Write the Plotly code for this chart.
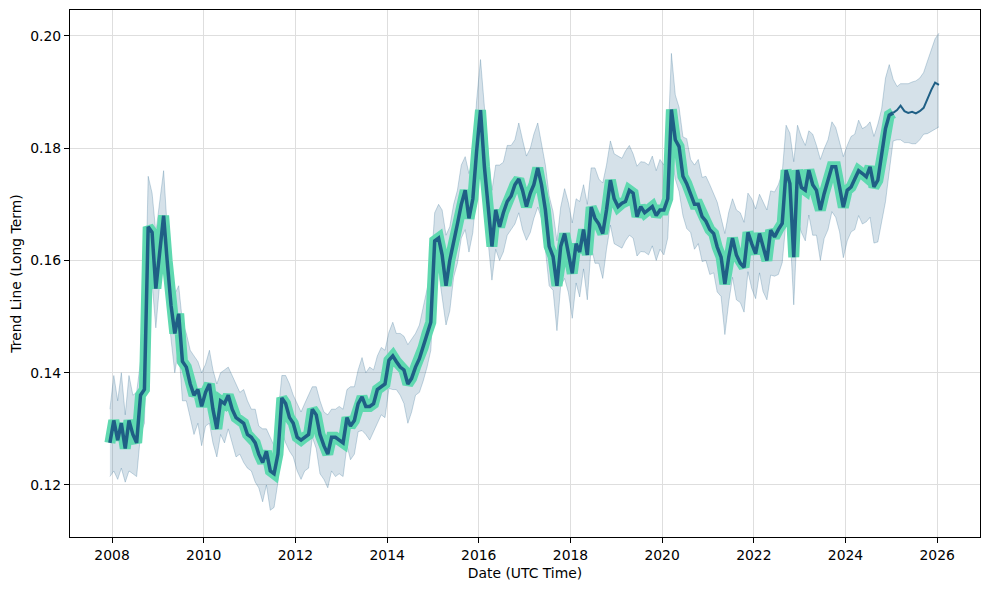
import pandas as pd
import plotly.graph_objects as go

# monthly trend (history), Dec 2007 .. Jan 2025
trend = [
    0.1275,
    0.1315, 0.128, 0.131, 0.1265, 0.1315, 0.129, 0.1275, 0.136, 0.137, 0.166, 0.165, 0.155,        # 2008
    0.162, 0.168, 0.160, 0.152, 0.147, 0.1505, 0.142, 0.141, 0.138, 0.136, 0.137, 0.134,           # 2009
    0.1365, 0.138, 0.1335, 0.130, 0.135, 0.1345, 0.136, 0.1335, 0.132, 0.1315, 0.131, 0.129,       # 2010
    0.1285, 0.1275, 0.1255, 0.124, 0.126, 0.1225, 0.122, 0.1255, 0.1355, 0.1345, 0.132, 0.131,    # 2011
    0.1285, 0.128, 0.1285, 0.129, 0.1335, 0.1325, 0.129, 0.127, 0.1255, 0.1285, 0.1285, 0.128,    # 2012
    0.1275, 0.132, 0.1305, 0.1315, 0.1345, 0.1357, 0.134, 0.134, 0.1345, 0.137, 0.1375, 0.138,    # 2013
    0.1422, 0.143, 0.142, 0.141, 0.1405, 0.138, 0.139, 0.141, 0.1425, 0.1445, 0.147, 0.149,       # 2014
    0.1635, 0.164, 0.161, 0.1555, 0.160, 0.163, 0.1665, 0.170, 0.1725, 0.1675, 0.171, 0.1795,     # 2015
    0.1868, 0.1767, 0.1705, 0.1625, 0.169, 0.166, 0.1685, 0.1705, 0.1715, 0.1735, 0.1745, 0.1725, # 2016
    0.1696, 0.172, 0.1735, 0.1765, 0.1735, 0.169, 0.1625, 0.1607, 0.1555, 0.1625, 0.1648, 0.1613, # 2017
    0.1577, 0.163, 0.1615, 0.1655, 0.161, 0.1695, 0.1675, 0.1665, 0.1648, 0.169, 0.1743, 0.171,   # 2018
    0.1696, 0.1702, 0.1705, 0.1725, 0.172, 0.1678, 0.1696, 0.1685, 0.169, 0.1696, 0.168, 0.169,   # 2019
    0.169, 0.171, 0.1869, 0.1815, 0.1803, 0.175, 0.1737, 0.172, 0.170, 0.170, 0.1678, 0.167,      # 2020
    0.1655, 0.1648, 0.1624, 0.1606, 0.1558, 0.1606, 0.164, 0.161, 0.1595, 0.1588, 0.165, 0.163,   # 2021
    0.1612, 0.1648, 0.1625, 0.160, 0.1654, 0.1642, 0.1655, 0.1666, 0.1761, 0.1737, 0.1606, 0.1761, # 2022
    0.173, 0.1725, 0.1761, 0.1735, 0.1725, 0.169, 0.1719, 0.1745, 0.1767, 0.1767, 0.1731, 0.1695, # 2023
    0.1725, 0.1731, 0.1745, 0.176, 0.1755, 0.1749, 0.1767, 0.1731, 0.1743, 0.179, 0.1835, 0.1859, # 2024
    0.1863,
]

# distance from trend to upper / lower edge of the uncertainty band
band_up = [
    0.006,
    0.008, 0.007, 0.009, 0.006, 0.008, 0.007, 0.009, 0.006, 0.008, 0.009, 0.007, 0.010,
    0.009, 0.008, 0.006, 0.008, 0.007, 0.005, 0.007, 0.006, 0.006, 0.007, 0.005, 0.006,
    0.005, 0.006, 0.007, 0.008, 0.005, 0.006, 0.005, 0.006, 0.006, 0.005, 0.006, 0.006,
    0.005, 0.006, 0.005, 0.006, 0.004, 0.006, 0.005, 0.007, 0.004, 0.005, 0.006, 0.005,
    0.006, 0.005, 0.006, 0.007, 0.004, 0.005, 0.006, 0.006, 0.007, 0.005, 0.005, 0.006,
    0.006, 0.005, 0.007, 0.006, 0.006, 0.007, 0.006, 0.007, 0.006, 0.006, 0.007, 0.006,
    0.005, 0.006, 0.005, 0.006, 0.006, 0.007, 0.007, 0.006, 0.006, 0.007, 0.008, 0.009,
    0.005, 0.006, 0.008, 0.009, 0.006, 0.007, 0.006, 0.007, 0.006, 0.008, 0.007, 0.009,
    0.009, 0.010, 0.009, 0.010, 0.008, 0.011, 0.009, 0.010, 0.009, 0.008, 0.010, 0.009,
    0.009, 0.008, 0.009, 0.008, 0.007, 0.008, 0.009, 0.008, 0.008, 0.007, 0.008, 0.009,
    0.009, 0.008, 0.009, 0.008, 0.009, 0.007, 0.009, 0.008, 0.009, 0.008, 0.007, 0.008,
    0.009, 0.008, 0.009, 0.008, 0.007, 0.009, 0.008, 0.009, 0.008, 0.009, 0.008, 0.009,
    0.008, 0.009, 0.010, 0.008, 0.007, 0.007, 0.008, 0.006, 0.007, 0.008, 0.007, 0.008,
    0.008, 0.007, 0.008, 0.007, 0.009, 0.008, 0.007, 0.008, 0.009, 0.008, 0.007, 0.008,
    0.008, 0.007, 0.008, 0.009, 0.007, 0.008, 0.008, 0.009, 0.008, 0.009, 0.017, 0.008,
    0.009, 0.008, 0.007, 0.009, 0.008, 0.009, 0.008, 0.007, 0.008, 0.007, 0.008, 0.009,
    0.008, 0.009, 0.008, 0.009, 0.008, 0.009, 0.008, 0.009, 0.010, 0.008, 0.009, 0.009,
    0.006,
]
band_dn = [
    0.006,
    0.009, 0.007, 0.008, 0.006, 0.009, 0.007, 0.006, 0.007, 0.006, 0.008, 0.009, 0.007,
    0.006, 0.008, 0.007, 0.006, 0.007, 0.006, 0.007, 0.006, 0.006, 0.007, 0.006, 0.007,
    0.006, 0.007, 0.006, 0.005, 0.006, 0.007, 0.006, 0.006, 0.007, 0.006, 0.007, 0.006,
    0.006, 0.007, 0.006, 0.007, 0.006, 0.007, 0.006, 0.005, 0.006, 0.007, 0.006, 0.006,
    0.006, 0.007, 0.006, 0.006, 0.005, 0.006, 0.007, 0.006, 0.006, 0.006, 0.007, 0.006,
    0.006, 0.005, 0.006, 0.006, 0.005, 0.006, 0.005, 0.006, 0.005, 0.006, 0.005, 0.006,
    0.005, 0.006, 0.005, 0.005, 0.006, 0.007, 0.006, 0.005, 0.006, 0.006, 0.006, 0.005,
    0.007, 0.006, 0.008, 0.007, 0.009, 0.006, 0.007, 0.006, 0.007, 0.006, 0.006, 0.006,
    0.006, 0.008, 0.007, 0.006, 0.007, 0.006, 0.007, 0.006, 0.006, 0.007, 0.006, 0.007,
    0.006, 0.007, 0.006, 0.007, 0.006, 0.007, 0.007, 0.006, 0.008, 0.007, 0.008, 0.007,
    0.008, 0.007, 0.008, 0.007, 0.008, 0.007, 0.008, 0.007, 0.008, 0.007, 0.008, 0.008,
    0.007, 0.008, 0.007, 0.008, 0.008, 0.007, 0.008, 0.007, 0.008, 0.007, 0.008, 0.007,
    0.008, 0.007, 0.008, 0.007, 0.008, 0.007, 0.008, 0.007, 0.008, 0.007, 0.008, 0.007,
    0.008, 0.007, 0.008, 0.007, 0.009, 0.008, 0.007, 0.008, 0.007, 0.008, 0.007, 0.008,
    0.008, 0.007, 0.008, 0.007, 0.008, 0.007, 0.008, 0.007, 0.009, 0.008, 0.0085, 0.009,
    0.008, 0.009, 0.008, 0.009, 0.008, 0.009, 0.008, 0.009, 0.008, 0.009, 0.008, 0.009,
    0.009, 0.008, 0.009, 0.008, 0.009, 0.008, 0.009, 0.010, 0.011, 0.012, 0.013, 0.010,
    0.005,
]

# forecast, Jan 2025 .. Jan 2026
fc_trend = [0.1863, 0.1868, 0.1876, 0.1866, 0.1863, 0.1865, 0.1862, 0.1866, 0.1872, 0.1889, 0.1904, 0.1917, 0.1913]
fc_hi = [0.1905, 0.191, 0.1915, 0.1915, 0.1915, 0.1918, 0.192, 0.1925, 0.1935, 0.1955, 0.1975, 0.1995, 0.2005]
fc_lo = [0.181, 0.1815, 0.1815, 0.181, 0.181, 0.1808, 0.1808, 0.1815, 0.1825, 0.1826, 0.183, 0.1835, 0.1838]

y_ticks = [0.12, 0.14, 0.16, 0.18, 0.20]
x_ticks = [str(y) for y in range(2008, 2027, 2)]

hist_dates = pd.date_range('2007-12-01', periods=len(trend), freq='MS') + pd.Timedelta(days=14)
fc_dates = pd.date_range('2025-01-01', periods=len(fc_trend), freq='MS') + pd.Timedelta(days=14)

hist_hi = [t + u for t, u in zip(trend, band_up)]
hist_lo = [t - d for t, d in zip(trend, band_dn)]
band_x = list(hist_dates) + list(fc_dates[1:])
band_hi = hist_hi + fc_hi[1:]
band_lo = hist_lo + fc_lo[1:]

dark = '#1f5f85'
fig = go.Figure()

# uncertainty band
fig.add_trace(go.Scatter(x=band_x, y=band_lo, mode='lines',
                         line=dict(color='rgba(34,98,138,0.25)', width=1), hoverinfo='skip'))
fig.add_trace(go.Scatter(x=band_x, y=band_hi, mode='lines', fill='tonexty',
                         fillcolor='rgba(34,98,138,0.19)',
                         line=dict(color='rgba(34,98,138,0.25)', width=1), hoverinfo='skip'))

# highlighted history
fig.add_trace(go.Scatter(x=hist_dates, y=trend, mode='lines',
                         line=dict(color='#5fd9b0', width=11)))
fig.add_trace(go.Scatter(x=hist_dates, y=trend, mode='lines',
                         line=dict(color=dark, width=3.5)))
# forecast
fig.add_trace(go.Scatter(x=fc_dates, y=fc_trend, mode='lines',
                         line=dict(color=dark, width=2)))

font = dict(family='DejaVu Sans', size=13.9, color='black')
axis_common = dict(
    showline=True, mirror=True, linecolor='black', linewidth=1,
    ticks='outside', ticklen=5, tickwidth=1, tickcolor='black',
    showgrid=True, gridcolor='#dedede', gridwidth=1, zeroline=False,
    tickfont=font, automargin=False,
)

# page body adds an 8px offset, so the figure is sized to fit the window
fig.update_layout(
    width=982, height=582,
    margin=dict(l=62, r=10, t=2, b=53),
    paper_bgcolor='white', plot_bgcolor='white',
    showlegend=False,
    font=font,
    xaxis=dict(
        axis_common, type='date',
        range=['2007-01-31', '2026-12-08'],
        tickvals=[f'{y}-01-01' for y in x_ticks], ticktext=x_ticks,
        title=dict(text='Date (UTC Time)', font=font, standoff=6),
    ),
    yaxis=dict(
        axis_common,
        range=[0.11073, 0.20463],
        tickvals=y_ticks, ticktext=[f'{v:.2f}' for v in y_ticks],
        title=dict(text='Trend Line (Long Term)', font=font, standoff=8),
    ),
)

fig.write_html("out.html")
